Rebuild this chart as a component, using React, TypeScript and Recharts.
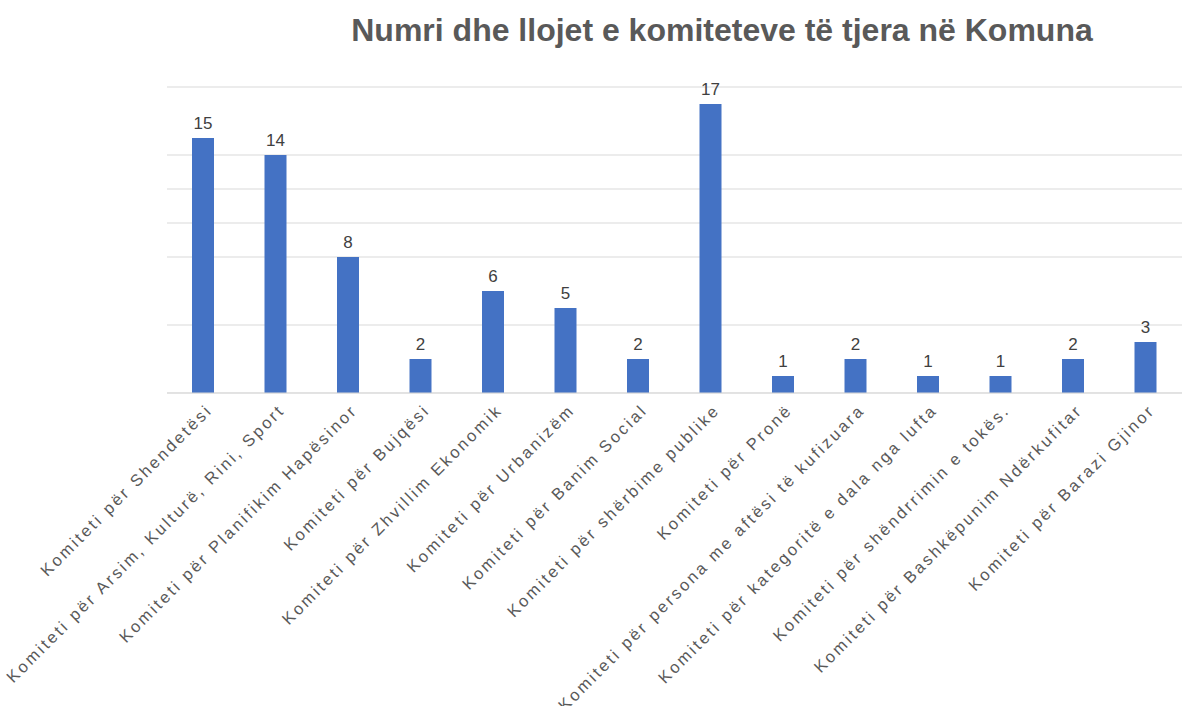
import { BarChart, Bar, XAxis, YAxis, CartesianGrid, LabelList } from 'recharts';

const categories = [
  'Komiteti për Shendetësi',
  'Komiteti për Arsim, Kulturë, Rini, Sport',
  'Komiteti për Planifikim  Hapësinor',
  'Komiteti për Bujqësi',
  'Komiteti për Zhvillim Ekonomik',
  'Komiteti për Urbanizëm',
  'Komiteti për Banim Social',
  'Komiteti për shërbime publike',
  'Komiteti për Pronë',
  'Komiteti për persona me aftësi të kufizuara',
  'Komiteti për kategoritë e dala nga lufta',
  'Komiteti për shëndrrimin e  tokës.',
  'Komiteti për Bashkëpunim Ndërkufitar',
  'Komiteti për Barazi Gjinor',
];

const counts = [15, 14, 8, 2, 6, 5, 2, 17, 1, 2, 1, 1, 2, 3];

// gridlines visible in the original
const gridTicks = [0, 4, 8, 10, 12, 14, 18];

const title = 'Numri dhe llojet e komiteteve të tjera në Komuna';

const data = categories.map((name, i) => ({ name, value: counts[i] }));

function AngledTick(props: any) {
  const { x, y, payload } = props;
  return (
    <g transform={`translate(${x + 2},${y + 2})`}>
      <text
        textAnchor="end"
        transform="rotate(-45)"
        dy="0.7em"
        fill="#595959"
        fontSize={16.5}
        style={{ letterSpacing: '2.6px' }}
      >
        {payload.value}
      </text>
    </g>
  );
}

export default function App() {
  return (
    <div
      style={{
        position: 'absolute',
        left: 0,
        top: 0,
        width: 1182,
        height: 706,
        background: '#fff',
        fontFamily: '"Liberation Sans", Arial, sans-serif',
      }}
    >
      <div
        style={{
          position: 'absolute',
          left: 0,
          width: 1182,
          top: 12,
          paddingLeft: 262,
          boxSizing: 'border-box',
          textAlign: 'center',
          fontSize: 32,
          fontWeight: 'bold',
          color: '#595959',
        }}
      >
        {title}
      </div>
      <BarChart
        width={1182}
        height={706}
        data={data}
        margin={{ top: 87, right: 0, left: 167, bottom: 283 }}
      >
        <CartesianGrid
          vertical={false}
          stroke="#d9d9d9"
          horizontalValues={gridTicks}
        />
        <YAxis hide domain={[0, 18]} ticks={gridTicks} />
        <XAxis
          dataKey="name"
          height={30}
          interval={0}
          tickLine={false}
          axisLine={{ stroke: '#d9d9d9' }}
          tick={<AngledTick />}
        />
        <Bar dataKey="value" fill="#4472C4" barSize={22} isAnimationActive={false}>
          <LabelList
            dataKey="value"
            position="top"
            offset={9}
            fill="#404040"
            fontSize={17}
          />
        </Bar>
      </BarChart>
    </div>
  );
}
